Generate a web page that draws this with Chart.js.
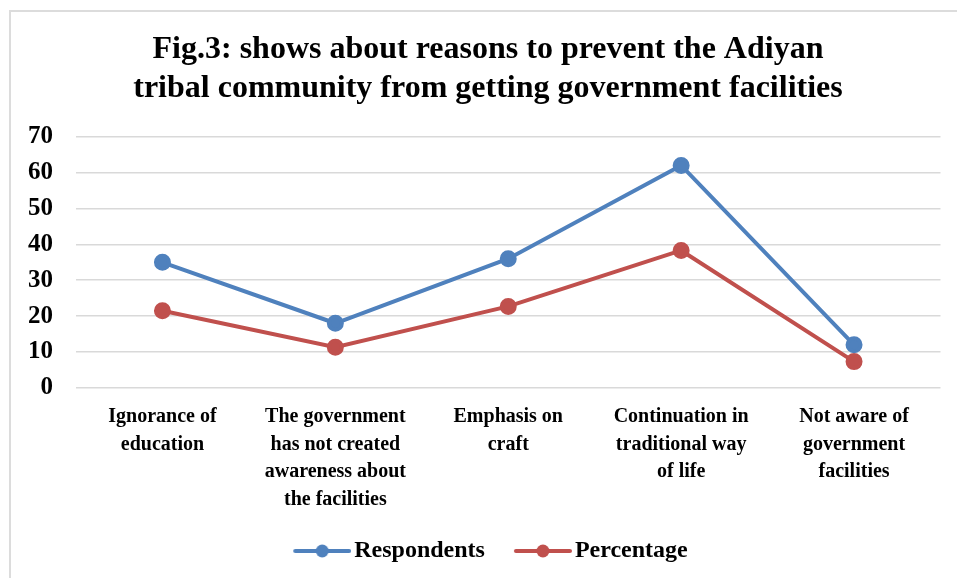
<!DOCTYPE html>
<html>
<head>
<meta charset="utf-8">
<script src="https://cdn.jsdelivr.net/npm/chart.js@4.4.1/dist/chart.umd.min.js"></script>
<style>
  body { margin: 0; background: #fff; overflow: hidden; }
  #frame {
    position: absolute; left: 9px; top: 10px;
    width: 960px; height: 580px;
    border-left: 2px solid #dcdcdc; border-top: 2px solid #dcdcdc;
  }
  #wrap { position: absolute; left: 0; top: 12px; width: 951px; height: 566px; }
</style>
</head>
<body>
<div id="frame"></div>
<div id="wrap"><canvas id="chart"></canvas></div>
<script>
// Chart data
const categories = [
    ['Ignorance of', 'education'],
    ['The government', 'has not created', 'awareness about', 'the facilities'],
    ['Emphasis on', 'craft'],
    ['Continuation in', 'traditional way', 'of life'],
    ['Not aware of', 'government', 'facilities']
];
const respondents = [35, 18, 36, 62, 12];
const percentage = [21.5, 11.3, 22.7, 38.3, 7.3];
const yTicks = [0, 10, 20, 30, 40, 50, 60, 70];

const BLUE = '#4f81bd';
const RED = '#c0504d';
const FONT = "'Times New Roman', 'Liberation Serif', serif";

// legend marker: short line with a dot, sitting at the right end of the image
function legendMarker(color) {
    const c = document.createElement('canvas');
    c.width = 72; c.height = 16;
    const g = c.getContext('2d');
    g.strokeStyle = color;
    g.lineWidth = 4;
    g.lineCap = 'round';
    g.beginPath();
    g.moveTo(16, 8); g.lineTo(70, 8);
    g.stroke();
    g.fillStyle = color;
    g.beginPath();
    g.arc(43, 8, 6.5, 0, Math.PI * 2);
    g.fill();
    return c;
}
const markers = [legendMarker(BLUE), legendMarker(RED)];

const ctx = document.getElementById('chart').getContext('2d');
new Chart(ctx, {
    type: 'line',
    data: {
        labels: categories,
        datasets: [{
            label: 'Respondents',
            data: respondents,
            borderColor: BLUE,
            backgroundColor: BLUE,
            borderWidth: 4,
            pointRadius: 6.5,
            pointHoverRadius: 6.5,
            tension: 0
        }, {
            label: 'Percentage',
            data: percentage,
            borderColor: RED,
            backgroundColor: RED,
            borderWidth: 4,
            pointRadius: 6.5,
            pointHoverRadius: 6.5,
            tension: 0
        }]
    },
    options: {
        responsive: true,
        maintainAspectRatio: false,
        animation: false,
        layout: { padding: { left: 25, right: 0, top: 0, bottom: 5 } },
        plugins: {
            title: {
                display: true,
                text: ['Fig.3: shows about reasons to prevent the Adiyan',
                       'tribal community from getting government facilities'],
                color: '#000',
                font: { family: FONT, size: 32, weight: 'bold', lineHeight: 1.2 },
                padding: { top: 19, bottom: 29 }
            },
            legend: {
                position: 'bottom',
                labels: {
                    color: '#000',
                    font: { family: FONT, size: 24, weight: 'bold' },
                    usePointStyle: true,
                    pointStyleWidth: 54,
                    boxHeight: 16,
                    padding: 24,
                    generateLabels: chart => Chart.defaults.plugins.legend.labels
                        .generateLabels(chart)
                        .map((item, i) => Object.assign(item, { pointStyle: markers[i] }))
                }
            },
            tooltip: { enabled: false }
        },
        scales: {
            x: {
                offset: true,
                grid: { display: false, drawTicks: false },
                border: { display: false },
                afterFit: axis => { axis.height -= 14; },
                ticks: {
                    color: '#000',
                    maxRotation: 0,
                    autoSkip: false,
                    padding: 15,
                    font: { family: FONT, size: 20, weight: 'bold', lineHeight: 1.39 }
                }
            },
            y: {
                min: 0,
                max: 70,
                afterBuildTicks: axis => { axis.ticks = yTicks.map(v => ({ value: v })); },
                afterFit: axis => { axis.width = 51; },
                grid: { color: '#d9d9d9', lineWidth: 1.5, drawTicks: false },
                border: { display: false },
                ticks: {
                    color: '#000',
                    padding: 23,
                    font: { family: FONT, size: 25, weight: 'bold' }
                }
            }
        }
    }
});
</script>
</body>
</html>
